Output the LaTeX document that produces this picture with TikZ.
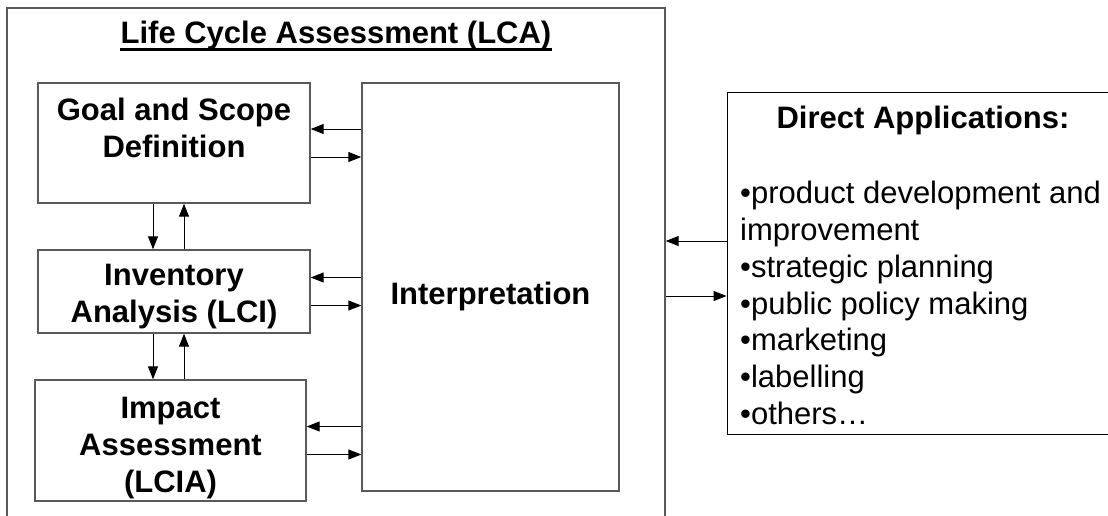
\documentclass[tikz,border=0pt]{standalone}
\usepackage{fontspec}
\setmainfont{Liberation Sans}
\usetikzlibrary{arrows.meta, positioning}

\begin{document}
\begin{tikzpicture}[x=1pt, y=-1pt,
    box/.style={draw=black!65, line width=1.4pt, rectangle},
    lbl/.style={align=center, font=\bfseries\fontsize{31}{37}\selectfont},
    flow/.style={-{Triangle[length=13pt, width=10pt]}, line width=1pt}]

\useasboundingbox (0,0) rectangle (1108,515);
\clip (0,0) rectangle (1108,515);

\node[box, minimum width=658, minimum height=540] (LCA) at (336,278) {};
\node[lbl, inner sep=0, anchor=base] (Title) at (336,43) {Life Cycle Assessment (LCA)};
\draw[line width=2.8pt] ([yshift=-6.5pt]Title.base west) -- ([yshift=-6.5pt]Title.base east);

% the four boxes of the LCA framework
\node[box, minimum width=272, minimum height=120] (Goal) at (174,143) {};
\node[lbl, anchor=north] (GoalText) at ([yshift=-12pt]Goal.north) {Goal and Scope\\Definition};
\node[box, minimum width=272, minimum height=83] (Inv) at (174,291.5) {};
\node[lbl] (InvText) at ([yshift=-5pt]Inv.center) {Inventory\\Analysis (LCI)};
\node[box, minimum width=271, minimum height=121] (Impact) at (170.5,440.5) {};
\node[lbl] (ImpactText) at ([yshift=-8pt]Impact.center) {Impact\\Assessment\\(LCIA)};
\node[box, minimum width=257, minimum height=408] (Interp) at (490.5,287) {};
\node[lbl] (InterpText) at ([yshift=-9pt]Interp.center) {Interpretation};

% applications
\node[box, draw=black, line width=1pt, minimum width=392, minimum height=342] (Apps) at (923,263) {};
\node[lbl, anchor=base] (AppsTitle) at (923,128) {Direct Applications:};
\node[font=\fontsize{31}{36.8}\selectfont, align=left, anchor=north west, inner sep=0] (AppsList) at (740,181)
    {•product development and\\improvement\\•strategic planning\\•public policy making\\•marketing\\•labelling\\•others…};

\draw[flow] ([yshift=14pt]Goal.east -| Interp.west) -- ([yshift=14pt]Goal.east);
\draw[flow] ([yshift=-14pt]Goal.east) -- ([yshift=-14pt]Goal.east -| Interp.west);
\draw[flow] ([yshift=14pt]Inv.east -| Interp.west) -- ([yshift=14pt]Inv.east);
\draw[flow] ([yshift=-14pt]Inv.east) -- ([yshift=-14pt]Inv.east -| Interp.west);
\draw[flow] ([yshift=14pt]Impact.east -| Interp.west) -- ([yshift=14pt]Impact.east);
\draw[flow] ([yshift=-14pt]Impact.east) -- ([yshift=-14pt]Impact.east -| Interp.west);

\draw[flow] ([xshift=-21pt]Goal.south) -- ([xshift=-21pt]Goal.south |- Inv.north);
\draw[flow] ([xshift=10pt]Goal.south |- Inv.north) -- ([xshift=10pt]Goal.south);
\draw[flow] ([xshift=-21pt]Inv.south) -- ([xshift=-21pt]Inv.south |- Impact.north);
\draw[flow] ([xshift=10pt]Inv.south |- Impact.north) -- ([xshift=10pt]Inv.south);

\draw[flow] ([yshift=22pt]Apps.west) -- ([yshift=22pt]Apps.west -| LCA.east);
\draw[flow] ([yshift=-33pt]Apps.west -| LCA.east) -- ([yshift=-33pt]Apps.west);

\end{tikzpicture}
\end{document}
